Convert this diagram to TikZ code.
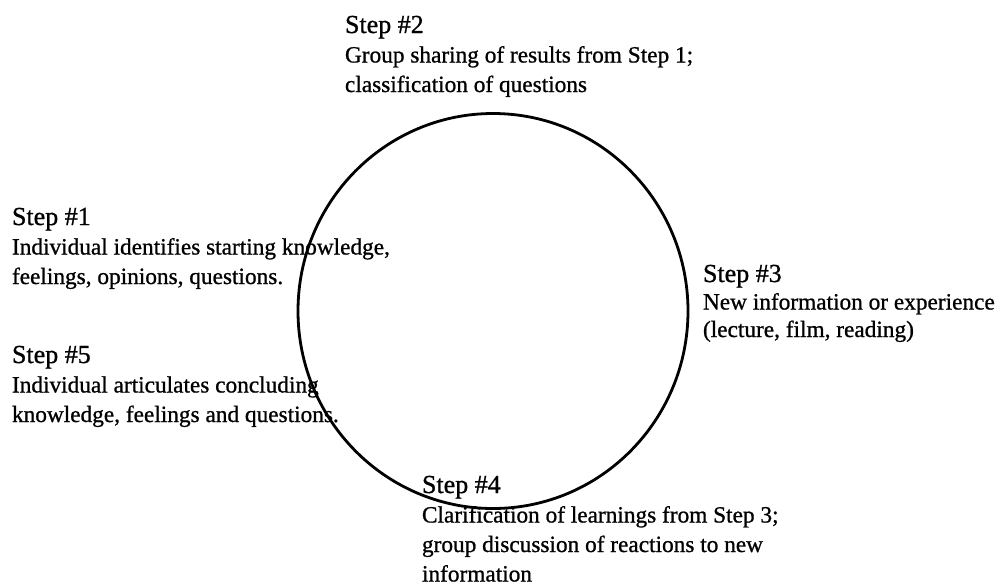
\documentclass[tikz,border=0pt]{standalone}
\usepackage{fontspec}
\newfontfamily\scanfont{Liberation Serif}[FakeBold=0.9]
\usetikzlibrary{shapes.geometric}
\newcommand\headfont{\fontsize{26}{30}\selectfont}
\newcommand\bodyfont{\fontsize{23.3}{29.5}\selectfont}
\newcommand\bl[1]{\hbox{#1}}
\newcommand\blk[3][29.5pt]{\vtop{\scanfont\bodyfont\baselineskip=#1\lineskiplimit=-10pt\bl{\headfont #2}#3}}
\tikzset{
  stepblock/.style={anchor=base west, inner sep=0pt, outer sep=0pt},
  cyclering/.style={draw=black, line width=2.8pt, ellipse, inner sep=0pt}
}
\begin{document}
\begin{tikzpicture}[x=1pt,y=1pt]
\useasboundingbox (0,0) rectangle (1004,-587);
\node[cyclering, minimum width=390pt, minimum height=395pt] (ring) at (493,-311) {};
\node[stepblock] (s2) at (345,-33) {\blk{Step \#2}{\bl{Group sharing of results from Step 1;}\bl{classification of questions}}};
\node[stepblock] (s1) at (12,-225) {\blk{Step \#1}{\bl{Individual identifies starting knowledge,}\bl{feelings, opinions, questions.}}};
\node[stepblock] (s3) at (703,-282) {\blk[27.5pt]{Step \#3}{\bl{New information or experience}\bl{(lecture, film, reading)}}};
\node[stepblock] (s5) at (12,-363) {\blk{Step \#5}{\bl{Individual articulates concluding}\bl{knowledge, feelings and questions.}}};
\node[stepblock] (s4) at (422,-493) {\blk{Step \#4}{\bl{Clarification of learnings from Step 3;}\bl{group discussion of reactions to new}\bl{information}}};
\end{tikzpicture}
\end{document}
